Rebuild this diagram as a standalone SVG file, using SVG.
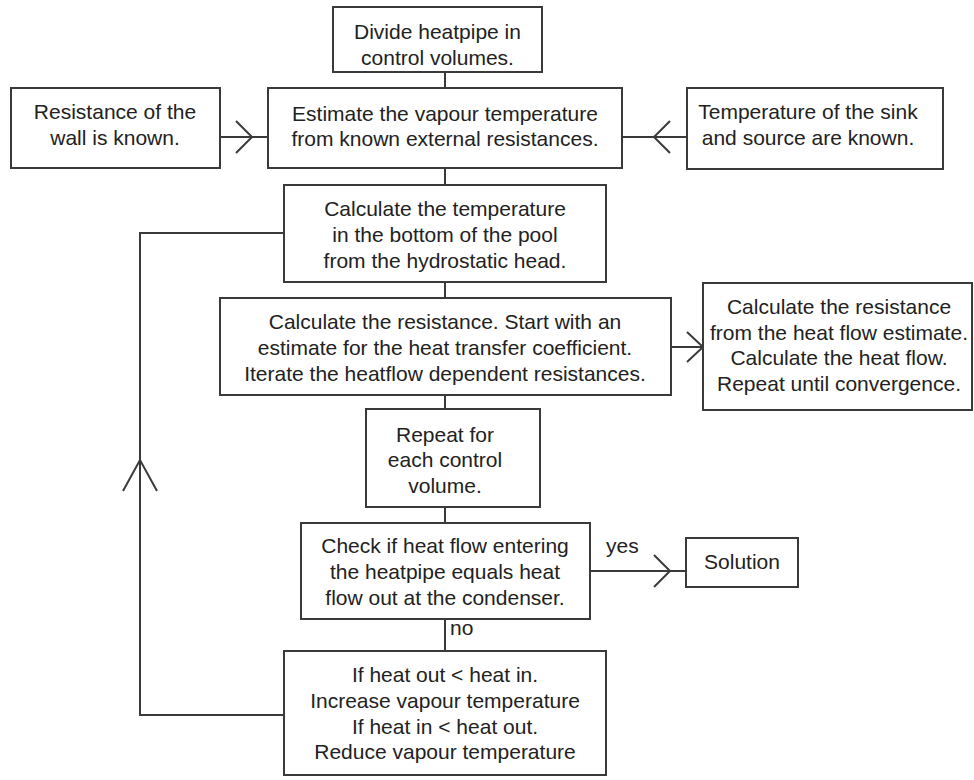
<svg xmlns="http://www.w3.org/2000/svg" width="974" height="780" viewBox="0 0 974 780">
<style>
.box{fill:#fff;stroke:#3a3a3a;stroke-width:2}
.ln{fill:none;stroke:#3a3a3a;stroke-width:2}
text{font-family:"Liberation Sans",Arial,sans-serif;font-size:21px;fill:#222;text-anchor:middle}
.l{text-anchor:start}
</style>
<rect width="974" height="780" fill="#fff"/>
<g id="connectors">
<path class="ln" d="M445,72 V88"/>
<path class="ln" d="M220,137 H268"/>
<path class="ln" d="M236,121 L252,137 L236,153"/>
<path class="ln" d="M622,137 H687"/>
<path class="ln" d="M670,121 L654,137 L670,153"/>
<path class="ln" d="M445,168 V185"/>
<path class="ln" d="M445,282 V298"/>
<path class="ln" d="M671,347 H703"/>
<path class="ln" d="M687,332 L703,347 L687,362"/>
<path class="ln" d="M445,395 V409"/>
<path class="ln" d="M445,507 V523"/>
<path class="ln" d="M590,571 H686"/>
<path class="ln" d="M654,555 L670,571 L654,587"/>
<path class="ln" d="M445,619 V651"/>
<path class="ln" d="M284,715 H140 V233 H284"/>
<path class="ln" d="M123,491 L140,460 L157,491"/>
<text class="l" x="606" y="553">yes</text>
<text class="l" x="450" y="635">no</text>
</g>
<g id="n1"><rect class="box" x="333" y="7" width="209" height="65"/>
<text x="437.5" y="39">Divide heatpipe in</text><text x="437.5" y="64.5">control volumes.</text></g>
<g id="n2"><rect class="box" x="268" y="88" width="354" height="80"/>
<text x="445" y="121">Estimate the vapour temperature</text><text x="445" y="146">from known external resistances.</text></g>
<g id="n3"><rect class="box" x="11" y="88" width="209" height="80"/>
<text x="115" y="119">Resistance of the</text><text x="115" y="145">wall is known.</text></g>
<g id="n4"><rect class="box" x="687" y="88" width="256" height="81"/>
<text x="808" y="119">Temperature of the sink</text><text x="808" y="145">and source are known.</text></g>
<g id="n5"><rect class="box" x="284" y="185" width="322" height="97"/>
<text x="445" y="216">Calculate the temperature</text><text x="445" y="242">in the bottom of the pool</text><text x="445" y="268">from the hydrostatic head.</text></g>
<g id="n6"><rect class="box" x="220" y="298" width="451" height="97"/>
<text x="445" y="329">Calculate the resistance. Start with an</text><text x="445" y="355">estimate for the heat transfer coefficient.</text><text x="445" y="381">Iterate the heatflow dependent resistances.</text></g>
<g id="n7"><rect class="box" x="703" y="283" width="269" height="127"/>
<text x="839" y="314">Calculate the resistance</text><text x="839" y="340">from the heat flow estimate.</text><text x="839" y="365">Calculate the heat flow.</text><text x="839" y="391">Repeat until convergence.</text></g>
<g id="n8"><rect class="box" x="366" y="409" width="174" height="98"/>
<text x="445" y="442">Repeat for</text><text x="445" y="467">each control</text><text x="445" y="493">volume.</text></g>
<g id="n9"><rect class="box" x="301" y="523" width="289" height="96"/>
<text x="445" y="553">Check if heat flow entering</text><text x="445" y="579">the heatpipe equals heat</text><text x="445" y="605">flow out at the condenser.</text></g>
<g id="n10"><rect class="box" x="686" y="538" width="112" height="49"/>
<text x="742" y="569">Solution</text></g>
<g id="n11"><rect class="box" x="284" y="651" width="322" height="124"/>
<text x="445" y="682">If heat out &lt; heat in.</text><text x="445" y="708">Increase vapour temperature</text><text x="445" y="734">If heat in &lt; heat out.</text><text x="445" y="759">Reduce vapour temperature</text></g>
</svg>
